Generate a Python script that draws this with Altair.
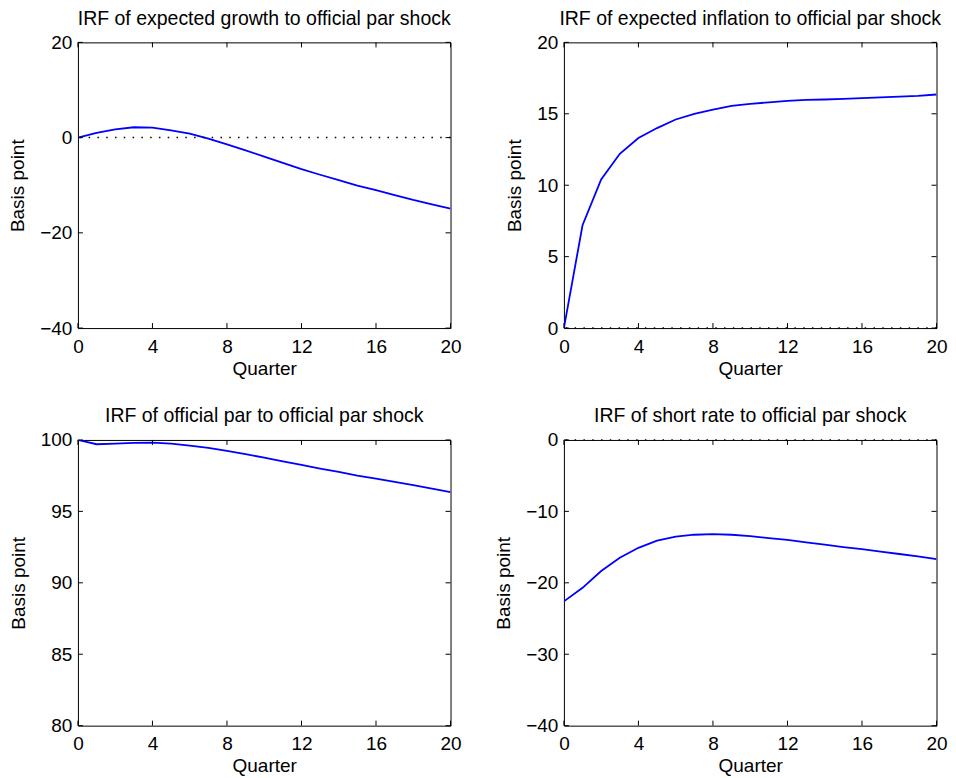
import altair as alt
import pandas as pd

quarters = list(range(0, 21))

growth = [0.0, 0.98, 1.75, 2.17, 2.1, 1.54, 0.84, -0.2, -1.4, -2.66, -4.0,
          -5.3, -6.64, -7.8, -8.95, -10.1, -11.05, -12.1, -13.1, -14.0, -14.9]
inflation = [0.0, 7.2, 10.4, 12.2, 13.3, 14.0, 14.6, 15.0, 15.3, 15.55, 15.7,
             15.8, 15.9, 15.97, 16.0, 16.05, 16.1, 16.15, 16.2, 16.25, 16.35]
official_par = [100.0, 99.7, 99.74, 99.79, 99.81, 99.74, 99.6, 99.44, 99.23, 99.0, 98.77,
                98.5, 98.25, 98.0, 97.76, 97.5, 97.3, 97.07, 96.83, 96.6, 96.34]
short_rate = [-22.6, -20.7, -18.35, -16.5, -15.1, -14.1, -13.55, -13.27, -13.18, -13.27, -13.46,
              -13.74, -14.0, -14.34, -14.67, -15.0, -15.3, -15.65, -15.97, -16.3, -16.7]

titles = [
    "IRF of expected growth to official par shock",
    "IRF of expected inflation to official par shock",
    "IRF of official par to official par shock",
    "IRF of short rate to official par shock",
]
series = [growth, inflation, official_par, short_rate]
y_domains = [[-40, 20], [0, 20], [80, 100], [-40, 0]]
y_ticks = [[-40, -20, 0, 20], [0, 5, 10, 15, 20], [80, 85, 90, 95, 100], [-40, -30, -20, -10, 0]]
zero_lines = [True, True, False, True]
x_ticks = [0, 4, 8, 12, 16, 20]

FONT = "Liberation Sans"
W, H = 373, 286
TL = 5  # inward tick length


def panel(title, values, ydom, yt, zero):
    df = pd.DataFrame({"q": quarters, "v": values})
    x = alt.X("q:Q", scale=alt.Scale(domain=[0, 20], nice=False, zero=False),
              axis=alt.Axis(values=x_ticks, title="Quarter", labelFlush=False,
                            labelOverlap=False, labelPadding=9, titlePadding=3))
    y = alt.Y("v:Q", scale=alt.Scale(domain=ydom, nice=False, zero=False),
              axis=alt.Axis(values=yt, title="Basis point", labelPadding=6,
                            labelOverlap=False, titlePadding=12))
    line = alt.Chart(df).mark_line(color="#0000ff", strokeWidth=1.8, clip=True).encode(x=x, y=y)
    layers = [line]
    if zero:
        zdf = pd.DataFrame({"z": [0]})
        layers.append(alt.Chart(zdf).mark_rule(color="black", strokeWidth=1.5,
                                                strokeDash=[1.5, 7.3]).encode(y="z:Q"))
    xt = pd.DataFrame({"t": x_ticks})
    ytd = pd.DataFrame({"t": yt})
    layers.append(alt.Chart(xt).mark_rule(color="black", strokeWidth=1).encode(
        x="t:Q", y=alt.value(H), y2=alt.value(H - TL)))
    layers.append(alt.Chart(xt).mark_rule(color="black", strokeWidth=1).encode(
        x="t:Q", y=alt.value(0), y2=alt.value(TL)))
    layers.append(alt.Chart(ytd).mark_rule(color="black", strokeWidth=1).encode(
        y="t:Q", x=alt.value(0), x2=alt.value(TL)))
    layers.append(alt.Chart(ytd).mark_rule(color="black", strokeWidth=1).encode(
        y="t:Q", x=alt.value(W - TL), x2=alt.value(W)))
    return alt.layer(*layers).properties(
        width=W, height=H,
        title=alt.TitleParams(text=title, font=FONT, fontSize=19.5, fontWeight="normal",
                              color="black", anchor="middle", baseline="alphabetic", offset=-11),
    )


charts = [panel(t, s, d, yt, z) for t, s, d, yt, z in zip(titles, series, y_domains, y_ticks, zero_lines)]

chart = alt.concat(*charts, columns=2, bounds="flush",
                   spacing={"row": 112, "column": 113.5}).properties(
    padding={"left": 0, "top": 0, "right": 0, "bottom": 0},
    background="white",
).configure_view(stroke="black", strokeWidth=1).configure_axis(
    labelFont=FONT, titleFont=FONT, labelFontSize=19, titleFontSize=19,
    titleFontWeight="normal", labelColor="black", titleColor="black",
    grid=False, domain=False, ticks=False, tickSize=0
)

chart.save("out.html", embed_options={"renderer": "svg", "actions": False})
